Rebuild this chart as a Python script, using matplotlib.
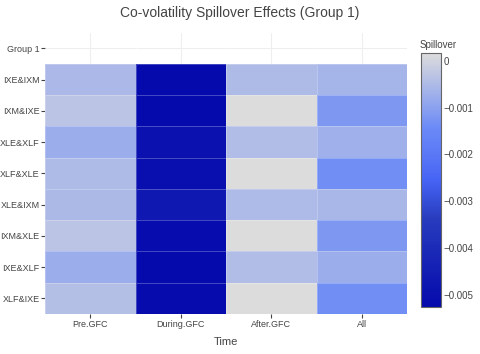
import numpy as np
import matplotlib
matplotlib.use("Agg")
import matplotlib.pyplot as plt
from matplotlib.colors import LinearSegmentedColormap

plt.rcParams["font.family"] = ["Liberation Sans", "DejaVu Sans"]

# rows from top to bottom; "Group 1" is an empty header row
rows = ["Group 1", "IXE&IXM", "IXM&IXE", "XLE&XLF", "XLF&XLE",
        "XLE&IXM", "IXM&XLE", "IXE&XLF", "XLF&IXE"]
periods = ["Pre.GFC", "During.GFC", "After.GFC", "All"]

pre_gfc = [np.nan, -0.00054, -0.00032, -0.00075, -0.00048, -0.00052, -0.00032, -0.00075, -0.00042]
during_gfc = [np.nan, -0.00526, -0.00524, -0.00500, -0.00505, -0.00470, -0.00518, -0.00524, -0.00522]
after_gfc = [np.nan, -0.00048, 0.000165, -0.00045, 0.000165, -0.00050, 0.000165, -0.00046, 0.000165]
all_periods = [np.nan, -0.00062, -0.00118, -0.00072, -0.00138, -0.00058, -0.00118, -0.00075, -0.00138]

zmin, zmax = -0.00526, 0.000165

# plotly's old "Blues" scale
stops = [(0.0, (5, 10, 172)), (0.35, (40, 60, 190)), (0.5, (70, 100, 245)),
         (0.6, (90, 120, 245)), (0.7, (106, 137, 247)), (1.0, (220, 220, 220))]
cmap = LinearSegmentedColormap.from_list(
    "plotly_blues", [(p, tuple(c / 255 for c in rgb)) for p, rgb in stops])

z = np.ma.masked_invalid(np.column_stack([pre_gfc, during_gfc, after_gfc, all_periods]))

txt = "#444444"
fig = plt.figure(figsize=(4.8, 3.54), dpi=100)
ax = fig.add_axes([45 / 480, 1 - 314 / 354, (407 - 45) / 480, (314 - 32.6) / 354])

xe = np.arange(len(periods) + 1) - 0.5
ye = np.arange(len(rows) + 1) - 0.5
mesh = ax.pcolormesh(xe, ye, z, cmap=cmap, vmin=zmin, vmax=zmax,
                     edgecolors=(1, 1, 1, 0.25), linewidth=0.4, zorder=2)

ax.set_xlim(-0.5, len(periods) - 0.5)
ax.set_ylim(len(rows) - 0.5, -0.5)
ax.set_xticks(range(len(periods)))
ax.set_xticklabels(periods)
ax.set_yticks(range(len(rows)))
ax.set_yticklabels(rows)
ax.tick_params(axis="both", length=3, width=0.8, color="#444444",
               labelsize=6.5, labelcolor=txt, pad=1)
ax.grid(True, color="#eeeeee", linewidth=0.8, zorder=0)
for s in ax.spines.values():
    s.set_visible(False)
ax.set_xlabel("Time", fontsize=8, color=txt, labelpad=6)

fig.text(240 / 480, 1 - 13 / 354, "Co-volatility Spillover Effects (Group 1)",
         ha="center", va="center", fontsize=10, color=txt)

cax = fig.add_axes([421 / 480, 1 - 307 / 354, 20 / 480, (307 - 53) / 354])
cb = fig.colorbar(mesh, cax=cax, ticks=[0, -0.001, -0.002, -0.003, -0.004, -0.005])
cb.ax.set_yticklabels(["0", "\u22120.001", "\u22120.002", "\u22120.003", "\u22120.004", "\u22120.005"])
cb.ax.tick_params(length=0, labelsize=7, labelcolor=txt, pad=2)
cb.outline.set_edgecolor("#666666")
cb.outline.set_linewidth(0.8)
fig.text(420 / 480, 1 - 45 / 354, "Spillover", ha="left", va="center", fontsize=7, color=txt)

fig.savefig("out.png", dpi=100)
